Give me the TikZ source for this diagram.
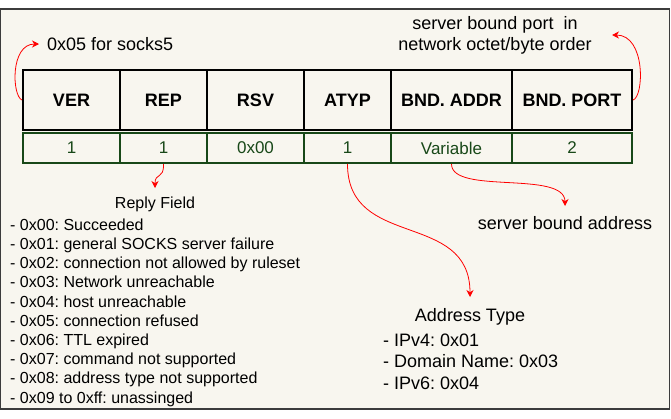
\documentclass[tikz,border=0pt]{standalone}
\usepackage{fontspec}
\setmainfont{Liberation Sans}
\usetikzlibrary{arrows.meta}
\definecolor{bgcream}{RGB}{248,246,239}
\definecolor{framegray}{RGB}{60,60,60}
\definecolor{valgreen}{RGB}{24,72,24}
\frenchspacing
\begin{document}
\begin{tikzpicture}[x=1pt,y=-1pt,
  hdr/.style={draw=black, line width=2pt, fill=bgcream, minimum height=60pt, inner sep=0pt, font=\fontsize{18}{21}\selectfont\bfseries},
  val/.style={draw=valgreen, line width=2pt, fill=bgcream, minimum height=30pt, inner sep=0pt, text=valgreen, font=\fontsize{17}{20}\selectfont},
  ann/.style={font=\fontsize{18}{21}\selectfont, inner sep=0pt},
  annlist/.style={font=\fontsize{18}{21.5}\selectfont, inner sep=0pt, align=left, anchor=north west},
  replyfont/.style={font=\fontsize{16}{19.2}\selectfont, inner sep=0pt},
  note/.style={-{Stealth[length=7pt,width=7pt]}, red, line width=0.8pt}]
\useasboundingbox (0,0) rectangle (671,418);
\fill[white] (0,0) rectangle (671,418);
\draw[framegray, fill=bgcream, line width=1.2pt] (0.6,9) rectangle (669.6,409);

% header row
\node[hdr, minimum width=97pt]  (ver)  at (71.5,100)  {VER};
\node[hdr, minimum width=87pt]  (rep)  at (163.5,100) {REP};
\node[hdr, minimum width=97pt]  (rsv)  at (255.5,100) {RSV};
\node[hdr, minimum width=87pt]  (atyp) at (347.5,100) {ATYP};
\node[hdr, minimum width=121pt] (addr) at (451.5,100) {BND. ADDR};
\node[hdr, minimum width=120pt] (port) at (572,100)   {BND. PORT};

% value row
\node[val, minimum width=97pt]  (verv)  at (71.5,148)  {1};
\node[val, minimum width=87pt]  (repv)  at (163.5,148) {1};
\node[val, minimum width=97pt]  (rsvv)  at (255.5,148) {0x00};
\node[val, minimum width=87pt]  (atypv) at (347.5,148) {1};
\node[val, minimum width=121pt] (addrv) at (451.5,148) {Variable};
\node[val, minimum width=120pt] (portv) at (572,148)   {2};

% annotations
\node[ann, anchor=west] (socks) at (47,44) {0x05 for socks5};
\node[ann, align=center] (portnote) at (495,35) {server bound port\ \ in\\network octet/byte order};
\node[ann] (addrnote) at (565,223) {server bound address};

\node[replyfont] (replytitle) at (155,204) {Reply Field};
\node[replyfont, align=left, anchor=north west] (replylist) at (10,218.5) {%
- 0x00: Succeeded\\
- 0x01: general SOCKS server failure\\
- 0x02: connection not allowed by ruleset\\
- 0x03: Network unreachable\\
- 0x04: host unreachable\\
- 0x05: connection refused\\
- 0x06: TTL expired\\
- 0x07: command not supported\\
- 0x08: address type not supported\\
- 0x09 to 0xff: unassinged};

\node[ann] (atitle) at (470,317) {Address Type};
\node[annlist] (alist) at (383,333.5) {- IPv4: 0x01\\- Domain Name: 0x03\\- IPv6: 0x04};

% arrow ends
\coordinate (socksend) at (39,44);
\coordinate (portend) at (612,35);
\coordinate (replyend) at (155,188);
\coordinate (atypend) at (470,297);
\coordinate (addrend) at (565,206);

% connectors
\draw[note] (ver.west) .. controls (12,96) and (10,44) .. (socksend);
\draw[note] (port.east) .. controls (644,97) and (646,35) .. (portend);
\draw[note] (repv.south) .. controls (164,180) and (155,172) .. (replyend);
\draw[note] (atypv.south) .. controls (347.5,250) and (470,210) .. (atypend);
\draw[note] (addrv.south) .. controls (451.5,195) and (565,170) .. (addrend);
\end{tikzpicture}
\end{document}
